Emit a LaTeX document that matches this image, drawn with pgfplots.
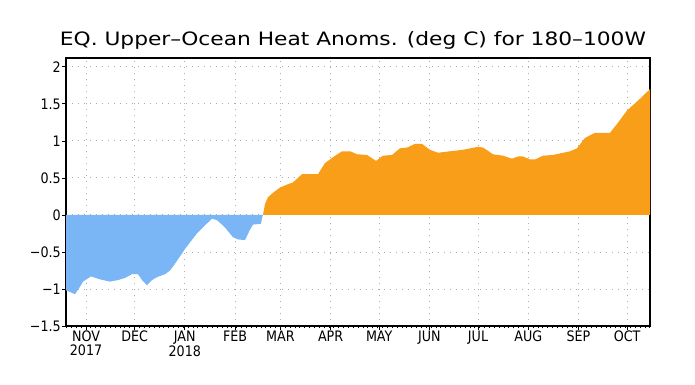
\documentclass[border=0pt]{standalone}
\usepackage{pgfplots}
\pgfplotsset{compat=1.18}
\usepackage{fontspec}
\setmainfont{DejaVu Sans}
\newfontfamily\ticksfont[FakeStretch=0.88]{DejaVu Sans}
\newfontfamily\titlefont[FakeStretch=1.18]{DejaVu Sans}
\definecolor{negblue}{RGB}{122,182,245}
\definecolor{posorange}{RGB}{248,158,24}
\begin{document}
\begin{tikzpicture}[x=1bp,y=1bp]
\path (-66bp,-59bp) rectangle (629bp,326bp);
\begin{axis}[
  at={(0,0)}, anchor=south west, scale only axis,
  width=584bp, height=268bp,
  xmin=-12.35, xmax=348.15, ymin=-1.5, ymax=2.12,
  ytick={-1.5,-1,-0.5,0,0.5,1,1.5,2},
  yticklabels={−1.5,−1,−0.5,0,0.5,1,1.5,2},
  xtick={0,30,61,92,120,151,181,212,242,273,304,334},
  xticklabels={NOV\\2017,DEC,JAN\\2018,FEB,MAR,APR,MAY,JUN,JUL,AUG,SEP,OCT},
  minor xtick={-12,-9,...,348},
  xticklabel style={align=center, font=\ticksfont\fontsize{14.5}{13.5}\selectfont, inner sep=1bp},
  yticklabel style={font=\ticksfont\fontsize{14.5}{14}\selectfont, inner sep=1bp},
  grid=major,
  major grid style={gray!65, dash pattern=on 1bp off 5bp, line width=0.9bp},
  axis line style={line width=1.6bp},
  tick style={black, line width=0.8bp},
  major tick length=4bp, minor tick length=2.5bp,
  tick align=outside, tick pos=left,
]
\addplot[fill=negblue, draw=none] coordinates {
(-12.35,-1.02) (-9.9,-1.04) (-6.8,-1.07) (-4.3,-0.99) (-1.85,-0.90) (3.1,-0.83)
(8.6,-0.87) (14.8,-0.90) (19.75,-0.88) (24.1,-0.85) (28.4,-0.80) (32.1,-0.80)
(34.6,-0.88) (37.65,-0.95) (40.7,-0.88) (43.8,-0.84) (48.8,-0.80) (51.85,-0.75)
(54.9,-0.66) (58.0,-0.56) (61.1,-0.46) (64.2,-0.37) (68.5,-0.25) (73.5,-0.14)
(77.8,-0.05) (80.9,-0.07) (85.8,-0.17) (90.7,-0.30) (93.8,-0.33) (98.15,-0.34)
(101.2,-0.20) (103.1,-0.13) (108.0,-0.12) (108.6,-0.05) (109.26,0)
} \closedcycle;
\addplot[fill=posorange, draw=none] coordinates {
(109.26,0) (110.5,0.15) (112.35,0.24) (116.05,0.31) (119.75,0.37) (124.1,0.41)
(127.8,0.44) (133.3,0.55) (143.2,0.55) (147.5,0.70) (152.5,0.78) (158.0,0.86)
(163.0,0.86) (167.3,0.82) (173.5,0.81) (179.0,0.73) (183.3,0.80) (188.9,0.81)
(193.8,0.90) (198.15,0.91) (203.1,0.96) (207.4,0.96) (212.35,0.88) (217.3,0.84)
(224.7,0.86) (232.7,0.88) (242.0,0.92) (245.1,0.91) (251.2,0.82) (257.4,0.80)
(263.0,0.76) (266.7,0.79) (269.75,0.79) (274.1,0.75) (277.2,0.75) (282.1,0.80)
(288.3,0.81) (298.8,0.86) (303.1,0.90) (308.0,1.04) (314.2,1.11) (323.5,1.11)
(327.8,1.23) (333.95,1.41) (342.0,1.57) (348.15,1.70)
} \closedcycle;
\end{axis}
\node[anchor=base, inner sep=0pt, font=\titlefont\fontsize{18.5}{20}\selectfont] at (287bp,280bp) {EQ. Upper–Ocean Heat Anoms. (deg C) for 180–100W};
\end{tikzpicture}
\end{document}
